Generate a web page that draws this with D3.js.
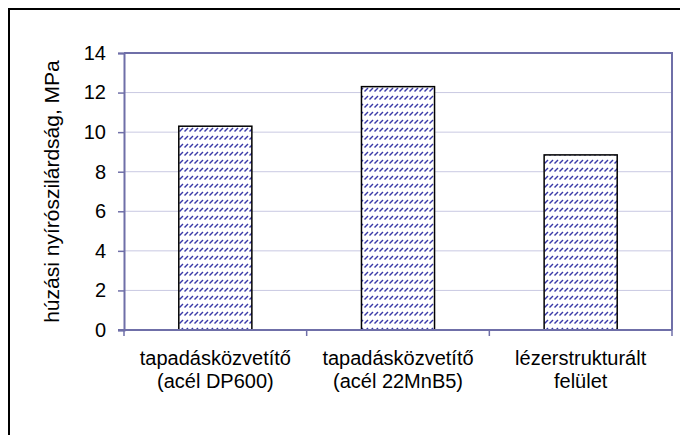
<!DOCTYPE html>
<html>
<head>
<meta charset="utf-8">
<script src="https://cdn.jsdelivr.net/npm/d3@7"></script>
<style>
  body { margin: 0; background: #fff; }
  svg { display: block; font-family: "Liberation Sans", Arial, sans-serif; }
</style>
</head>
<body>
<svg id="chart" width="680" height="435"></svg>
<script>
// chart data
const categories = [
  ["tapadásközvetítő", "(acél DP600)"],
  ["tapadásközvetítő", "(acél 22MnB5)"],
  ["lézerstrukturált", "felület"]
];
const values = [10.3, 12.3, 8.85];
const yTicks = [0, 2, 4, 6, 8, 10, 12, 14];
const yLabel = "húzási nyírószilárdság, MPa";

const svg = d3.select("#chart");
const axisColor = "#6f6fa8";
const gridColor = "#c9c9e2";

// outer frame (cut off at right and bottom like the original)
svg.append("rect")
  .attr("x", 9).attr("y", 9)
  .attr("width", 700).attr("height", 460)
  .attr("fill", "none")
  .attr("stroke", "#000")
  .attr("stroke-width", 2);

const margin = { top: 53, right: 8, bottom: 105, left: 124 };
const width = 680 - margin.left - margin.right;
const height = 435 - margin.top - margin.bottom;

const defs = svg.append("defs");
const pat = defs.append("pattern")
  .attr("id", "hatch")
  .attr("patternUnits", "userSpaceOnUse")
  .attr("width", 5).attr("height", 8);
pat.append("rect").attr("width", 5).attr("height", 8).attr("fill", "#fff");
pat.append("line")
  .attr("x1", 0.5).attr("y1", 6.5).attr("x2", 4).attr("y2", 3)
  .attr("stroke", "#3a3aa8")
  .attr("stroke-width", 1.4);

const g = svg.append("g").attr("transform", `translate(${margin.left},${margin.top})`);

const x = d3.scaleBand()
  .domain(d3.range(categories.length))
  .range([0, width])
  .paddingInner(0.6)
  .paddingOuter(0.3);

const xBand = d3.scaleBand()
  .domain(d3.range(categories.length))
  .range([0, width]);

const y = d3.scaleLinear()
  .domain([0, 14])
  .range([height, 0]);

// gridlines
g.append("g")
  .selectAll("line")
  .data(yTicks.filter(d => d > 0 && d < 14))
  .enter()
  .append("line")
  .attr("x1", 0).attr("x2", width)
  .attr("y1", d => y(d)).attr("y2", d => y(d))
  .attr("stroke", gridColor)
  .attr("stroke-width", 1);

// plot border top and right
g.append("path")
  .attr("d", `M0,${y(14)}H${width}V${height}`)
  .attr("fill", "none")
  .attr("stroke", axisColor)
  .attr("stroke-width", 2);

// bars
g.selectAll("rect.bar")
  .data(values)
  .enter()
  .append("rect")
  .attr("class", "bar")
  .attr("x", (d, i) => x(i))
  .attr("y", d => y(d))
  .attr("width", x.bandwidth())
  .attr("height", d => height - y(d))
  .attr("fill", "url(#hatch)")
  .attr("stroke", "#000")
  .attr("stroke-width", 1.5);

// y axis
const yAxis = g.append("g")
  .call(d3.axisLeft(y).tickValues(yTicks).tickSize(6).tickPadding(12).tickFormat(d3.format("d")));
yAxis.select(".domain").attr("stroke", axisColor).attr("stroke-width", 2);
yAxis.selectAll(".tick line").attr("stroke", axisColor).attr("stroke-width", 1.5);
yAxis.selectAll(".tick text")
  .attr("fill", "#000")
  .style("font-size", "20px");

// x axis
const xAxis = g.append("g")
  .attr("transform", `translate(0,${height})`);
xAxis.append("line")
  .attr("x1", -6).attr("x2", width)
  .attr("stroke", axisColor).attr("stroke-width", 2);
xAxis.selectAll("line.tk")
  .data(d3.range(categories.length + 1))
  .enter()
  .append("line")
  .attr("class", "tk")
  .attr("x1", d => d === categories.length ? width : xBand(d))
  .attr("x2", d => d === categories.length ? width : xBand(d))
  .attr("y1", 0).attr("y2", 6)
  .attr("stroke", axisColor)
  .attr("stroke-width", 1.5);

const catLabels = xAxis.selectAll("text.cat")
  .data(categories)
  .enter()
  .append("text")
  .attr("class", "cat")
  .attr("text-anchor", "middle")
  .attr("transform", (d, i) => `translate(${xBand(i) + xBand.bandwidth() / 2},35)`)
  .style("font-size", "20px")
  .attr("fill", "#000");
catLabels.selectAll("tspan")
  .data(d => d)
  .enter()
  .append("tspan")
  .attr("x", 0)
  .attr("dy", (d, i) => i === 0 ? 0 : 23)
  .text(d => d);

// y label
svg.append("text")
  .attr("transform", `translate(59,${margin.top + height / 2}) rotate(-90)`)
  .attr("text-anchor", "middle")
  .style("font-size", "21px")
  .attr("fill", "#000")
  .text(yLabel);
</script>
</body>
</html>
